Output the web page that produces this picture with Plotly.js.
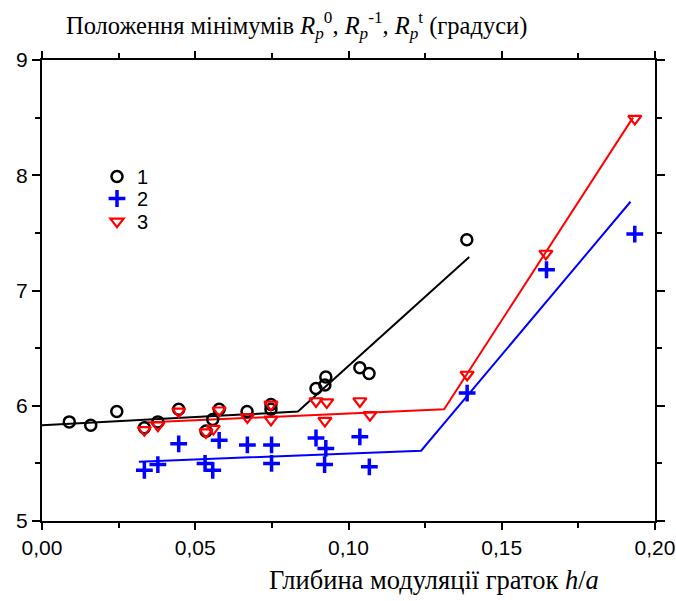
<!DOCTYPE html>
<html>
<head>
<meta charset="utf-8">
<script src="https://cdn.plot.ly/plotly-3.0.1.min.js"></script>
<style>html,body{margin:0;padding:0;background:#fff;}#chart{width:676px;height:601px;}</style>
</head>
<body>
<div id="chart"></div>
<script>
// Series 1 (black circles)
var x1 = [0.0089, 0.0159, 0.0244, 0.0334, 0.0378, 0.0446, 0.0535, 0.0557, 0.0578, 0.0669, 0.0747, 0.0747, 0.0894, 0.0923, 0.0926, 0.1037, 0.1067, 0.1386];
var y1 = [5.86, 5.83, 5.95, 5.81, 5.86, 5.97, 5.78, 5.88, 5.97, 5.95, 6.01, 5.97, 6.15, 6.18, 6.25, 6.33, 6.28, 7.44];
// Series 2 (blue crosses)
var x2 = [0.0334, 0.0378, 0.0446, 0.0532, 0.0557, 0.0578, 0.0670, 0.0749, 0.0749, 0.0894, 0.0926, 0.0922, 0.1037, 0.1068, 0.1387, 0.1646, 0.1934];
var y2 = [5.44, 5.49, 5.67, 5.50, 5.44, 5.70, 5.66, 5.66, 5.50, 5.72, 5.63, 5.49, 5.73, 5.47, 6.11, 7.18, 7.49];
// Series 3 (red triangles)
var x3 = [0.0334, 0.0378, 0.0446, 0.0535, 0.0559, 0.0578, 0.0670, 0.0747, 0.0747, 0.0894, 0.0929, 0.0923, 0.1037, 0.1070, 0.1387, 0.1644, 0.1934];
var y3 = [5.79, 5.83, 5.95, 5.77, 5.80, 5.96, 5.90, 5.88, 6.01, 6.04, 6.03, 5.87, 6.04, 5.92, 6.27, 7.32, 8.49];
// Fitted piecewise lines
var fit1x = [0, 0.0835, 0.1394];
var fit1y = [5.83, 5.95, 7.29];
var fit2x = [0.0316, 0.1237, 0.1920];
var fit2y = [5.515, 5.61, 7.77];
var fit3x = [0.0336, 0.1312, 0.1928];
var fit3y = [5.855, 5.97, 8.50];
var seriesNames = ["1", "2", "3"];
var xTickVals = [0, 0.05, 0.10, 0.15, 0.20];
var yTickVals = [5, 6, 7, 8, 9];

var traces = [
  {x: fit1x, y: fit1y, mode: 'lines', line: {color: '#000000', width: 2}, showlegend: false, hoverinfo: 'skip'},
  {x: fit2x, y: fit2y, mode: 'lines', line: {color: '#0000ff', width: 2}, showlegend: false, hoverinfo: 'skip'},
  {x: fit3x, y: fit3y, mode: 'lines', line: {color: '#ff0000', width: 2}, showlegend: false, hoverinfo: 'skip'},
  {x: x1, y: y1, mode: 'markers', name: seriesNames[0], legend: 'legend',
   marker: {symbol: 'circle-open', size: 11, color: '#000000', line: {width: 2.5, color: '#000000'}}},
  {x: x2, y: y2, mode: 'markers', name: seriesNames[1], legend: 'legend2',
   marker: {symbol: 'cross-thin-open', size: 12, color: '#0000ff', line: {width: 3.5, color: '#0000ff'}}},
  {x: x3, y: y3, mode: 'markers', name: seriesNames[2], legend: 'legend3',
   marker: {symbol: 'triangle-down-open', size: 11.5, color: '#ff0000', line: {width: 2.2, color: '#ff0000'}}}
];

function legendAt(topPx) {
  return {
    x: (97 - 42) / 613, y: 1 - (topPx - 60) / 461, xanchor: 'left', yanchor: 'top',
    bgcolor: 'rgba(0,0,0,0)', borderwidth: 0,
    font: {family: 'Liberation Sans, Arial, sans-serif', size: 20, color: '#000'},
    itemwidth: 30
  };
}

var layout = {
  width: 676, height: 601,
  margin: {l: 42, r: 21, t: 60, b: 80},
  paper_bgcolor: '#ffffff', plot_bgcolor: '#ffffff',
  separators: ',.',
  font: {family: 'Liberation Sans, Arial, sans-serif', size: 21, color: '#000000'},
  title: {
    text: 'Положення мінімумів <i>R</i><sub><i>p</i></sub><sup>0</sup>, <i>R</i><sub><i>p</i></sub><sup>-1</sup>, <i>R</i><sub><i>p</i></sub><sup>t</sup> (градуси)',
    font: {family: 'Liberation Serif, Times New Roman, serif', size: 24.5, color: '#000000'},
    xref: 'container', yref: 'container', x: 66/676, xanchor: 'left', y: 1 - 25/601, yanchor: 'middle'
  },
  xaxis: {
    range: [0, 0.2], tickvals: xTickVals, tickformat: '.2f',
    showgrid: false, zeroline: false, showline: true, linecolor: '#000', linewidth: 2,
    mirror: 'ticks', ticks: 'outside', ticklen: 7, tickwidth: 2, tickcolor: '#000',
    minor: {dtick: 0.025, tick0: 0, ticks: 'outside', ticklen: 5, tickwidth: 2, tickcolor: '#000'},
    tickfont: {family: 'Liberation Sans, Arial, sans-serif', size: 21}
  },
  yaxis: {
    range: [5, 9], tickvals: yTickVals,
    showgrid: false, zeroline: false, showline: true, linecolor: '#000', linewidth: 2,
    mirror: 'ticks', ticks: 'outside', ticklen: 8, tickwidth: 2, tickcolor: '#000',
    minor: {dtick: 0.5, tick0: 5, ticks: 'outside', ticklen: 5, tickwidth: 2, tickcolor: '#000'},
    tickfont: {family: 'Liberation Sans, Arial, sans-serif', size: 21}
  },
  showlegend: true,
  legend: legendAt(157),
  legend2: legendAt(179),
  legend3: legendAt(202),
  annotations: [{
    text: 'Глибина модуляції граток <i>h</i>/<i>a</i>',
    xref: 'paper', yref: 'paper', x: (434 - 42) / 613, y: (521 - 580) / 461,
    xanchor: 'center', yanchor: 'middle', showarrow: false,
    font: {family: 'Liberation Serif, Times New Roman, serif', size: 26.5, color: '#000'}
  }]
};

Plotly.newPlot('chart', traces, layout, {displayModeBar: false, staticPlot: true});
</script>
</body>
</html>
